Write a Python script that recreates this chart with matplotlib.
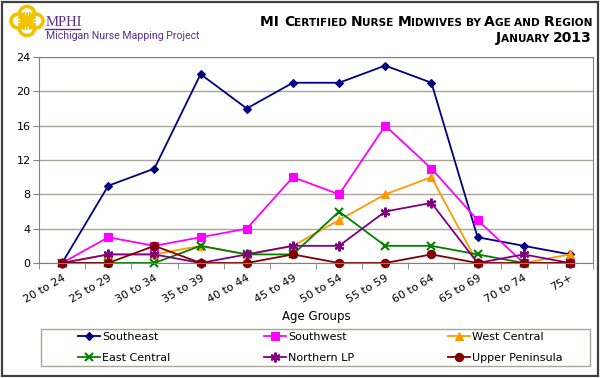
import matplotlib
matplotlib.use('Agg')
import matplotlib.pyplot as plt
from matplotlib.patches import Rectangle, Ellipse
from matplotlib.lines import Line2D

# données
age_groups = ['20 to 24', '25 to 29', '30 to 34', '35 to 39', '40 to 44', '45 to 49',
              '50 to 54', '55 to 59', '60 to 64', '65 to 69', '70 to 74', '75+']
southeast = [0, 9, 11, 22, 18, 21, 21, 23, 21, 3, 2, 1]
southwest = [0, 3, 2, 3, 4, 10, 8, 16, 11, 5, 0, 0]
west_central = [0, 1, 1, 2, 1, 2, 5, 8, 10, 0, 0, 1]
east_central = [0, 0, 0, 2, 1, 1, 6, 2, 2, 1, 0, 0]
northern_lp = [0, 1, 1, 0, 1, 2, 2, 6, 7, 0, 1, 0]
upper_peninsula = [0, 0, 2, 0, 0, 1, 0, 0, 1, 0, 0, 0]
y_ticks = [0, 4, 8, 12, 16, 20, 24]

series = [
    ('Southeast', southeast, '#000080', 'D', 4.5),
    ('Southwest', southwest, '#ff00ff', 's', 6),
    ('West Central', west_central, '#ff9900', '^', 6),
    ('East Central', east_central, '#008000', 'x', 6),
    ('Northern LP', northern_lp, '#800080', (6, 2, 0), 7),
    ('Upper Peninsula', upper_peninsula, '#800000', 'o', 6),
]

W, H = 600, 378
fig = plt.figure(figsize=(6, 3.78), dpi=100)
plt.rcParams['font.family'] = 'DejaVu Sans'

def px(x, y):
    return x / W, 1 - y / H

# cadre extérieur
fig.patches.append(Rectangle(px(2, 376), 596 / W, 374 / H, transform=fig.transFigure,
                             fill=False, edgecolor='#404040', linewidth=1.6))

ax = fig.add_axes([39 / W, 1 - 263 / H, 554 / W, 206 / H])
x = list(range(len(age_groups)))
for name, vals, col, mk, ms in series:
    ax.plot(x, vals, color=col, linewidth=1.3, marker=mk, markersize=ms,
            markeredgewidth=1.5 if mk in ('x', (6, 2, 0)) else 0.8, label=name, clip_on=False)

ax.set_xlim(-0.5, len(age_groups) - 0.5)
ax.set_ylim(0, 24)
ax.set_yticks(y_ticks)
ax.set_yticklabels([str(v) for v in y_ticks], fontsize=8)
ax.set_xticks(x)
ax.set_xticklabels(age_groups, fontsize=8, rotation=30, ha='right', rotation_mode='anchor')
ax.set_xticks([i - 0.5 for i in range(len(age_groups) + 1)], minor=True)
ax.tick_params(axis='x', which='major', length=0, pad=7)
ax.tick_params(axis='x', which='minor', length=4, color='#808080')
ax.tick_params(axis='y', length=4, color='#808080', pad=2)
ax.yaxis.grid(True, color='#a8a498', linewidth=1)
ax.set_axisbelow(True)
for s in ax.spines.values():
    s.set_color('#808080')
ax.set_xlabel('Age Groups', fontsize=8.5, labelpad=4)

# légende (ordre par lignes comme dans Excel)
handles, labels = ax.get_legend_handles_labels()
order = [0, 3, 1, 4, 2, 5]
fig.patches.append(Rectangle(px(41, 366), 549 / W, 37 / H, transform=fig.transFigure,
                             fill=False, edgecolor='#a8a498', linewidth=1))
fig.legend([handles[i] for i in order], [labels[i] for i in order],
           loc='upper left', bbox_to_anchor=(78 / W, 1 - 332 / H),
           ncol=3, fontsize=8, frameon=False, handlelength=2.0, handletextpad=0.2,
           borderaxespad=0, borderpad=0, labelspacing=0.95, columnspacing=8.4)

# logo
gold = '#f2c200'
for cx, cy in [(27, 13.5), (27, 28.5), (18.5, 21), (35.5, 21)]:
    fig.patches.append(Ellipse(px(cx, cy), 15 / W, 14 / H, transform=fig.transFigure,
                               fill=False, edgecolor=gold, linewidth=2.6))
for off in (-3, 0, 3):
    fig.lines.append(Line2D([19 / W, 35 / W], [1 - (21 + off) / H] * 2,
                            transform=fig.transFigure, color=gold, linewidth=1.3))
    fig.lines.append(Line2D([(27 + off) / W] * 2, [1 - 13 / H, 1 - 29 / H],
                            transform=fig.transFigure, color=gold, linewidth=1.3))
fig.text(*px(46, 26), 'MPHI', fontsize=10.5, family='Liberation Serif', color='#5b2d90')
fig.lines.append(Line2D([45 / W, 80 / W], [1 - 28.5 / H] * 2, transform=fig.transFigure,
                        color='#5b2d90', linewidth=1))
fig.text(*px(46, 39), 'Michigan Nurse Mapping Project', fontsize=7.6,
         family=['Roboto', 'DejaVu Sans'], color='#5b2d90')

# titre en petites capitales
def small_caps(text, right, baseline, big=10, small=7.6):
    runs = []
    for word in text.split(' '):
        if word.islower():
            runs.append((word.upper() + ' ', small))
        elif word.isupper() or word.isdigit():
            runs.append((word + ' ', big))
        else:
            runs.append((word[0], big))
            runs.append((word[1:].upper() + ' ', small))
    runs[-1] = (runs[-1][0].rstrip(), runs[-1][1])
    rend = fig.canvas.get_renderer()
    objs = []
    for s, size in runs:
        t = fig.text(0, 1 - baseline / H, s, fontsize=size, fontweight='bold',
                     va='baseline', color='black')
        objs.append((t, t.get_window_extent(rend).width))
    total = sum(w for _, w in objs)
    xpos = right - total
    for t, w in objs:
        t.set_x(xpos / W)
        xpos += w

small_caps('MI Certified Nurse Midwives by Age and Region', 592, 26)
small_caps('January 2013', 592, 42)

fig.savefig('out.png', dpi=100)
